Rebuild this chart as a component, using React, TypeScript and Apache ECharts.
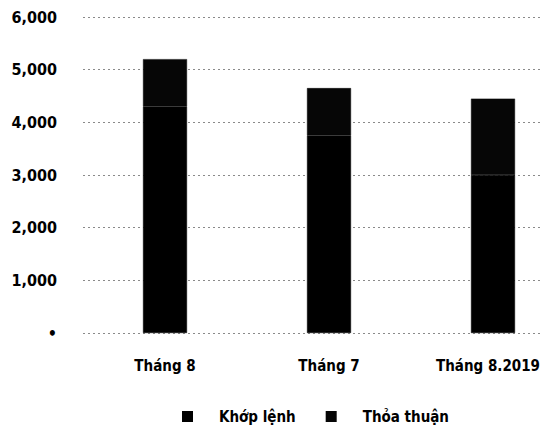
import React, { useEffect, useRef } from "react";
import * as echarts from "echarts";

const categories = ["Tháng 8", "Tháng 7", "Tháng 8.2019"];
const khopLenh = [4300, 3750, 3000];
const thoaThuan = [900, 900, 1450];
const yTicks = { min: 0, max: 6000, interval: 1000 };

const FONT = "'DejaVu Sans Condensed', 'Liberation Sans Narrow', sans-serif";

export default function App() {
  const ref = useRef<HTMLDivElement>(null);
  useEffect(() => {
    if (!ref.current) return;
    const chart = echarts.init(ref.current, null, { renderer: "svg" });
    const catData = categories.map((c, i) =>
      i === categories.length - 1 ? { value: c, textStyle: { padding: [0, 10, 0, 0] } } : c
    );
    chart.setOption({
      animation: false,
      backgroundColor: "#ffffff",
      grid: { left: 83, width: 492, top: 17, bottom: 98, containLabel: false, outerBoundsMode: "none" },
      legend: {
        bottom: 2,
        left: 177,
        itemWidth: 9,
        itemHeight: 9,
        itemGap: 30,
        icon: "rect",
        textStyle: { fontFamily: FONT, fontSize: 15, fontWeight: "bold", color: "#000", padding: [0, 0, 0, 22] },
        data: ["Khớp lệnh", "Thỏa thuận"],
      },
      xAxis: {
        type: "category",
        data: catData,
        axisLine: { show: false },
        axisTick: { show: false },
        axisLabel: { fontFamily: FONT, fontSize: 15, fontWeight: "bold", color: "#000", margin: 25 },
      },
      yAxis: {
        type: "value",
        min: yTicks.min,
        max: yTicks.max,
        interval: yTicks.interval,
        axisLine: { show: false },
        axisTick: { show: false },
        axisLabel: {
          fontFamily: FONT,
          fontSize: 16,
          fontWeight: "bold",
          color: "#000",
          margin: 26,
          formatter: (v: number) => (v === 0 ? "•" : v.toLocaleString("en-US")),
        },
        splitLine: { lineStyle: { color: "#8a8a8a", width: 1, type: [2, 3] } },
      },
      series: [
        {
          name: "Khớp lệnh",
          type: "bar",
          stack: "total",
          data: khopLenh,
          barWidth: 44,
          itemStyle: { color: "#000000", borderColor: "#000000", borderWidth: 0.5 },
        },
        {
          name: "Thỏa thuận",
          type: "bar",
          stack: "total",
          data: thoaThuan,
          barWidth: 44,
          itemStyle: { color: "#060606", borderColor: "#060606", borderWidth: 0.5 },
        },
      ],
    });
    return () => chart.dispose();
  }, []);
  return (
    <div
      ref={ref}
      style={{ position: "absolute", left: 0, top: 0, width: 542, height: 431, overflow: "hidden" }}
    />
  );
}
